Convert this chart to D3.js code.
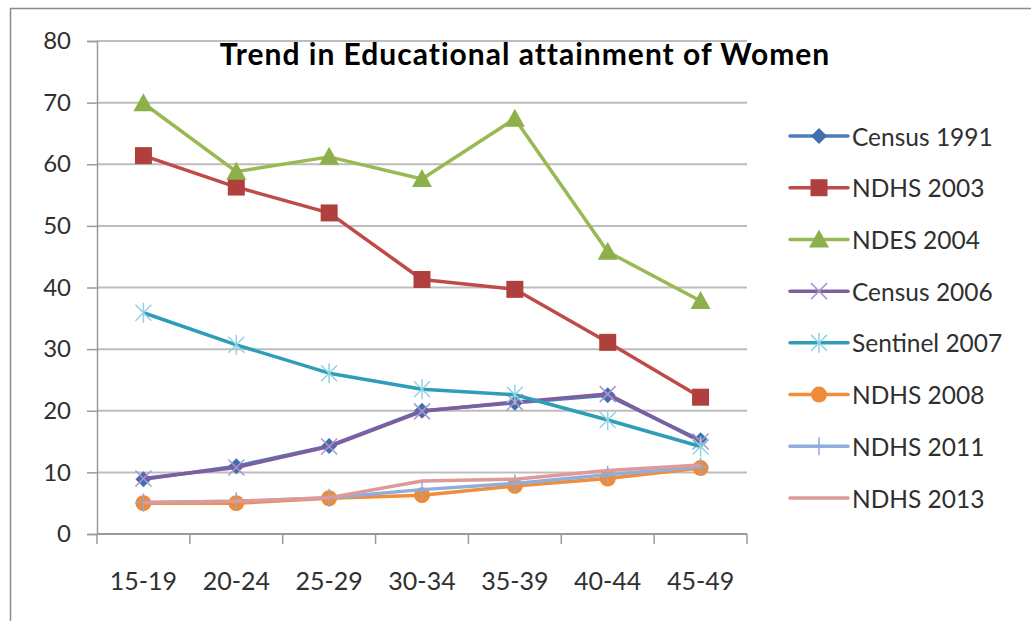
<!DOCTYPE html>
<html>
<head>
<meta charset="utf-8">
<script src="https://cdn.jsdelivr.net/npm/d3@7"></script>
<style>
  body { margin: 0; background: #fff; }
  svg { display: block; }
  text { font-family: Lato, "Open Sans", sans-serif; fill: #303030; }
</style>
</head>
<body>
<svg id="chart" width="1031" height="621"></svg>
<script>
const ageGroups = ['15-19', '20-24', '25-29', '30-34', '35-39', '40-44', '45-49']
const yTicks = [0, 10, 20, 30, 40, 50, 60, 70, 80]

const census1991 = [8.9, 11.0, 14.3, 20.0, 21.3, 22.5, 15.2]
const ndhs2003 = [61.4, 56.3, 52.1, 41.3, 39.7, 31.1, 22.2]
const ndes2004 = [69.9, 58.8, 61.2, 57.6, 67.4, 45.8, 37.8]
const census2006 = [9.0, 10.8, 14.2, 19.9, 21.4, 22.7, 15.0]
const sentinel2007 = [35.9, 30.7, 26.1, 23.5, 22.6, 18.5, 14.2]
const ndhs2008 = [5.0, 5.0, 5.8, 6.3, 7.8, 9.0, 10.7]
const ndhs2011 = [5.1, 5.3, 5.9, 7.2, 8.2, 9.6, 10.9]
const ndhs2013 = [5.1, 5.3, 5.9, 8.6, 8.9, 10.3, 11.2]

const seriesNames = ['Census 1991', 'NDHS 2003', 'NDES 2004', 'Census 2006', 'Sentinel 2007', 'NDHS 2008', 'NDHS 2011', 'NDHS 2013']
const seriesValues = [census1991, ndhs2003, ndes2004, census2006, sentinel2007, ndhs2008, ndhs2011, ndhs2013]

const lineColors = ['#4a7ebb', '#be4b48', '#98b954', '#7d5fa0', '#2e9db7', '#f18d3b', '#90aedb', '#dd9a98']
const markerColors = ['#3f70ad', '#b0403e', '#8db04a', '#ad95cc', '#8fd3e4', '#ef8b38', '#8aaad8', null]
const markerKinds = ['diamond', 'square', 'triangle', 'x', 'star', 'circle', 'plus', 'none']

const svg = d3.select('#chart')

// outer frame of the chart
svg.append('path')
  .attr('d', 'M10.5,621 L10.5,8.5 L1031,8.5')
  .attr('fill', 'none')
  .attr('stroke', '#8c8c8c')
  .attr('stroke-width', 1.5)

const plot = { left: 97, right: 747, top: 41, bottom: 534 }

const x = d3.scalePoint().domain(ageGroups).range([plot.left, plot.right]).padding(0.5)
const xBand = d3.scaleBand().domain(ageGroups).range([plot.left, plot.right])
const y = d3.scaleLinear().domain([0, 80]).range([plot.bottom, plot.top])

// gridlines
svg.append('g')
  .selectAll('line')
  .data(yTicks.filter(d => d > 0))
  .join('line')
  .attr('x1', plot.left).attr('x2', plot.right)
  .attr('y1', d => y(d)).attr('y2', d => y(d))
  .attr('stroke', '#bdbdbd')
  .attr('stroke-width', 2)

// y axis
const yAxis = svg.append('g')
  .attr('transform', `translate(${plot.left},0)`)
  .call(d3.axisLeft(y).tickValues(yTicks).tickSize(10).tickPadding(16))
yAxis.select('.domain').attr('stroke', '#9a9a9a').attr('stroke-width', 1.5)
yAxis.selectAll('.tick line').attr('stroke', '#9a9a9a').attr('stroke-width', 1.5)
yAxis.selectAll('.tick text').attr('font-size', 24).attr('fill', '#303030')
  .style('font-family', 'Lato, sans-serif')

// x axis baseline and boundary ticks
const xAxis = svg.append('g').attr('transform', `translate(0,${plot.bottom})`)
xAxis.append('line')
  .attr('x1', plot.left).attr('x2', plot.right)
  .attr('stroke', '#9a9a9a').attr('stroke-width', 2)
xAxis.selectAll('line.tk')
  .data(ageGroups.map(d => xBand(d)).concat([plot.right]))
  .join('line')
  .attr('class', 'tk')
  .attr('x1', d => d).attr('x2', d => d)
  .attr('y1', 0).attr('y2', 10)
  .attr('stroke', '#9a9a9a').attr('stroke-width', 1.5)
xAxis.selectAll('text')
  .data(ageGroups)
  .join('text')
  .attr('x', d => x(d))
  .attr('y', 46)
  .attr('text-anchor', 'middle')
  .attr('dominant-baseline', 'central')
  .attr('font-size', 25)
  .text(d => d)

// title
svg.append('text')
  .attr('x', 525)
  .attr('y', 65)
  .attr('text-anchor', 'middle')
  .attr('font-size', 30)
  .attr('font-weight', 'bold')
  .attr('letter-spacing', 1)
  .style('fill', '#000')
  .text('Trend in Educational attainment of Women')

function drawMarker (g, kind, color) {
  if (kind === 'diamond') {
    g.append('path').attr('d', 'M0,-8 L8,0 L0,8 L-8,0 Z').attr('fill', color)
  } else if (kind === 'square') {
    g.append('rect').attr('x', -8.5).attr('y', -8.5).attr('width', 17).attr('height', 17).attr('fill', color)
  } else if (kind === 'triangle') {
    g.append('path').attr('d', 'M0,-10 L10,8 L-10,8 Z').attr('fill', color)
  } else if (kind === 'circle') {
    g.append('circle').attr('r', 8).attr('fill', color)
  } else if (kind === 'x') {
    g.append('path').attr('d', 'M-8,-8 L8,8 M-8,8 L8,-8').attr('stroke', color).attr('stroke-width', 1.5)
  } else if (kind === 'star') {
    g.append('path').attr('d', 'M-8,-8 L8,8 M-8,8 L8,-8 M0,-10 L0,10').attr('stroke', color).attr('stroke-width', 1.5)
  } else if (kind === 'plus') {
    g.append('path').attr('d', 'M-8,0 L8,0 M0,-9 L0,9').attr('stroke', color).attr('stroke-width', 1.5)
  }
}

const line = d3.line().x((d, i) => x(ageGroups[i])).y(d => y(d))

seriesValues.forEach((vals, s) => {
  const g = svg.append('g')
  g.append('path')
    .datum(vals)
    .attr('d', line)
    .attr('fill', 'none')
    .attr('stroke', lineColors[s])
    .attr('stroke-width', 3.5)
    .attr('stroke-linejoin', 'round')
  vals.forEach((v, i) => {
    const m = g.append('g').attr('transform', `translate(${x(ageGroups[i])},${y(v)})`)
    drawMarker(m, markerKinds[s], markerColors[s])
  })
})

// legend
const legendY = d3.scalePoint().domain(seriesNames).range([136, 498])
const legend = svg.append('g')
seriesNames.forEach((name, s) => {
  const ly = legendY(name)
  legend.append('line')
    .attr('x1', 790).attr('x2', 848)
    .attr('y1', ly).attr('y2', ly)
    .attr('stroke', lineColors[s])
    .attr('stroke-width', 3.5)
    .attr('stroke-linecap', 'round')
  const m = legend.append('g').attr('transform', `translate(819,${ly})`)
  drawMarker(m, markerKinds[s], markerColors[s])
  legend.append('text')
    .attr('x', 852)
    .attr('y', ly)
    .attr('dominant-baseline', 'central')
    .attr('font-size', 24.5)
    .text(name)
})
</script>
</body>
</html>
